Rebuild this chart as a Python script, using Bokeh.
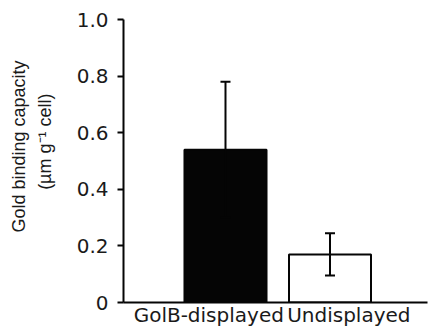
from bokeh.plotting import figure
from bokeh.models import ColumnDataSource, Range1d, FixedTicker, Whisker, TeeHead, Title
from bokeh.embed import file_html
from bokeh.resources import INLINE

categories = ["GolB-displayed", "Undisplayed"]
values = [0.54, 0.17]
errors = [0.24, 0.075]
fills = ["#050505", "#ffffff"]
y_ticks = [0, 0.2, 0.4, 0.6, 0.8, 1.0]
y_tick_labels = ["0", "0.2", "0.4", "0.6", "0.8", "1.0"]
y_title = ["Gold binding capacity", "(µm g\u207b\u00b9 cell)"]

FONT = "DejaVu Sans"
TFONT = "Liberation Sans"
TXT = "#1a1a1a"
INK = "#050505"

xs = [i + 1 for i in range(len(categories))]
src = ColumnDataSource(dict(
    x=xs, top=values, fill=fills,
    upper=[v + e for v, e in zip(values, errors)],
    lower=[v - e for v, e in zip(values, errors)],
))

p = figure(width=429, height=329, output_backend="svg", toolbar_location=None,
           x_range=Range1d(0.024, 2.933), y_range=Range1d(0, 1.0),
           min_border_left=123, min_border_right=2, min_border_top=19, min_border_bottom=24)
p.outline_line_color = None
p.grid.visible = False
p.background_fill_color = "white"

p.vbar(x="x", top="top", bottom=0, width=0.785, source=src,
       fill_color="fill", line_color=INK, line_width=2)

w = Whisker(source=src, base="x", upper="upper", lower="lower",
            line_color=INK, line_width=2, level="overlay",
            upper_head=TeeHead(size=10, line_width=2, line_color=INK),
            lower_head=TeeHead(size=10, line_width=2, line_color=INK))
p.add_layout(w)

# y axis
ya = p.yaxis[0]
ya.ticker = FixedTicker(ticks=y_ticks)
ya.major_label_overrides = {t: l for t, l in zip(y_ticks, y_tick_labels)}
ya.minor_tick_line_color = None
ya.major_tick_in = 0
ya.major_tick_out = 6
ya.major_tick_line_width = 2
ya.axis_line_width = 2
ya.axis_line_color = INK
ya.major_tick_line_color = INK
ya.major_label_text_font = FONT
ya.major_label_text_font_size = "20px"
ya.major_label_text_color = TXT
ya.major_label_standoff = 9
# blank spacer label to push the titles outward
ya.axis_label = " "
ya.axis_label_text_font_size = "1px"
ya.axis_label_standoff = 11

# two-line y title, inner line added first so it sits next to the axis
for txt, standoff, off in [(y_title[1], 8, 74), (y_title[0], 0, 41)]:
    p.add_layout(Title(text=txt, align="right", offset=off, standoff=standoff,
                       text_font=TFONT, text_font_size="18px",
                       text_font_style="normal", text_color=TXT), "left")

# x axis
xa = p.xaxis[0]
xa.ticker = FixedTicker(ticks=[xs[0] - 0.16, xs[1] + 0.18])
xa.major_label_overrides = {xs[0] - 0.16: categories[0], xs[1] + 0.18: categories[1]}
xa.minor_tick_line_color = None
xa.major_tick_line_color = None
xa.major_tick_in = 0
xa.major_tick_out = 0
xa.axis_line_width = 2
xa.axis_line_color = INK
xa.major_label_text_font = FONT
xa.major_label_text_font_size = "20px"
xa.major_label_text_color = TXT
xa.major_label_standoff = 0

open("out.html", "w").write(file_html(p, INLINE))
